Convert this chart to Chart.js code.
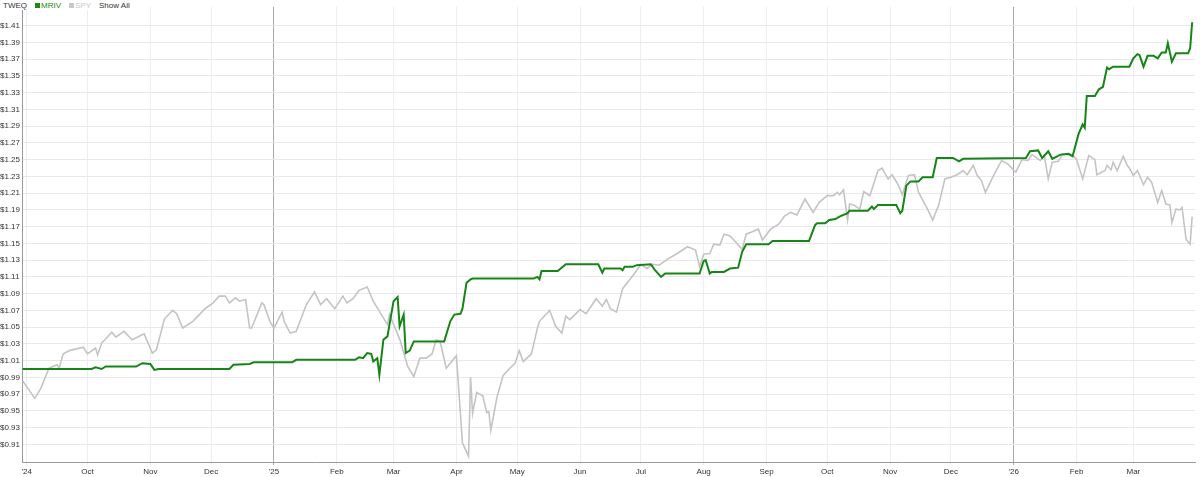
<!DOCTYPE html>
<html><head><meta charset="utf-8">
<script src="https://cdn.jsdelivr.net/npm/chart.js@4/dist/chart.umd.min.js"></script>
<style>
html,body{margin:0;padding:0;background:#fff;}
#wrap{position:relative;width:1200px;height:477px;}
#legend{position:absolute;left:3px;top:1px;font:8px "Liberation Sans",Arial,sans-serif;color:#333;z-index:2;background:#fff;padding-right:3px;}
#legend span{margin-right:8px;}
.sq{display:inline-block;width:5px;height:5px;margin-right:1px;vertical-align:0px;}
</style></head><body>
<div id="wrap">
<div id="legend"><span>TWEQ</span><span style="color:#1a8a1a"><i class="sq" style="background:#1a8a1a"></i>MRIV</span><span style="color:#c8c8c8"><i class="sq" style="background:#c8c8c8"></i>SPY</span><span>Show All</span></div>
<canvas id="c" width="1200" height="477"></canvas>
</div>
<script>
// day 0 = 2024-09-01
const monthDays = [0,30,61,91,122,153,181,212,242,273,303,334,365,395,426,456,487,518,546];
const monthLabels = ["'24","Oct","Nov","Dec","'25","Feb","Mar","Apr","May","Jun","Jul","Aug","Sep","Oct","Nov","Dec","'26","Feb","Mar"];
const yearDays = [122,487];
const yTicks = [0.91,0.93,0.95,0.97,0.99,1.01,1.03,1.05,1.07,1.09,1.11,1.13,1.15,1.17,1.19,1.21,1.23,1.25,1.27,1.29,1.31,1.33,1.35,1.37,1.39,1.41];

const spyDays = [-2,4,7,11,15,16,18,21,28,30,34,35,37,42,44,48,52,58,62,64,68,72,74,77,82,88,92,95,98,100,103,105,108,110,111,116,117,120,122,126,127,130,133,138,142,145,148,152,156,158,161,164,168,171,175,178,179,184,188,191,194,197,200,202,204,207,212,215,218,219,220,222,225,227,228,229,232,235,238,241,243,245,249,252,253,258,261,264,266,268,273,276,281,284,286,288,291,294,298,301,303,306,309,312,316,321,326,330,332,334,337,339,342,344,347,350,353,355,358,361,363,367,371,374,377,380,384,388,391,395,398,400,401,403,405,406,408,411,413,416,420,422,425,427,430,432,435,438,440,444,447,450,453,456,459,462,464,467,469,471,473,477,481,484,488,491,494,496,500,502,504,506,509,511,516,518,521,524,527,528,532,533,535,536,538,541,543,544,546,548,551,553,555,558,560,562,564,565,567,569,570,572,574,575];
const spyVals = [0.986,0.965,0.977,1.001,1.005,1.001,1.018,1.022,1.026,1.018,1.025,1.017,1.031,1.044,1.038,1.045,1.035,1.042,1.019,1.023,1.060,1.070,1.066,1.049,1.057,1.072,1.079,1.087,1.087,1.079,1.085,1.081,1.083,1.049,1.049,1.079,1.077,1.057,1.049,1.068,1.057,1.043,1.045,1.077,1.092,1.077,1.084,1.072,1.087,1.079,1.084,1.094,1.098,1.081,1.065,1.053,1.065,1.036,1.003,0.991,1.013,1.013,1.018,1.035,1.033,1.001,1.016,0.912,0.896,0.990,0.947,0.972,0.968,0.948,0.949,0.927,0.966,0.992,1.000,1.007,1.022,1.009,1.018,1.049,1.057,1.070,1.051,1.043,1.063,1.059,1.071,1.066,1.084,1.075,1.083,1.072,1.068,1.096,1.108,1.118,1.125,1.120,1.125,1.124,1.131,1.138,1.146,1.142,1.122,1.137,1.138,1.149,1.148,1.161,1.159,1.151,1.143,1.161,1.164,1.167,1.154,1.167,1.173,1.183,1.187,1.184,1.203,1.187,1.199,1.207,1.207,1.211,1.208,1.214,1.178,1.197,1.196,1.191,1.212,1.207,1.237,1.240,1.227,1.232,1.220,1.208,1.231,1.232,1.211,1.193,1.178,1.196,1.227,1.229,1.232,1.237,1.232,1.243,1.231,1.225,1.211,1.231,1.249,1.245,1.235,1.250,1.249,1.256,1.249,1.255,1.227,1.247,1.248,1.256,1.256,1.250,1.227,1.255,1.250,1.232,1.237,1.243,1.238,1.247,1.237,1.254,1.243,1.240,1.231,1.237,1.220,1.229,1.223,1.199,1.213,1.197,1.196,1.175,1.191,1.190,1.193,1.155,1.149,1.182];

const mrivDays = [-2,32,34,37,39,54,57,61,63,65,100,102,110,112,131,133,162,164,166,168,170,171,173,174,176,178,179,181,183,184,186,187,189,191,206,209,211,214,215,217,219,220,250,252,253,254,262,266,282,284,285,293,294,295,299,301,308,310,313,315,332,334,335,337,338,344,347,351,353,355,366,368,386,389,390,394,396,399,401,405,406,415,417,418,420,429,431,432,434,436,440,442,447,449,457,460,462,493,495,499,501,504,506,510,514,516,517,519,521,522,523,527,529,531,533,534,536,544,546,548,549,551,553,556,558,560,562,563,565,567,573,574,575];
const mrivVals = [1.000,1.000,1.002,1.000,1.003,1.003,1.007,1.006,0.999,1.000,1.000,1.005,1.006,1.008,1.008,1.011,1.011,1.014,1.013,1.019,1.018,1.009,1.013,0.993,1.035,1.039,1.053,1.081,1.086,1.051,1.065,1.019,1.022,1.033,1.033,1.057,1.065,1.066,1.072,1.103,1.107,1.108,1.108,1.110,1.107,1.117,1.117,1.125,1.125,1.115,1.120,1.120,1.118,1.122,1.122,1.124,1.125,1.118,1.110,1.114,1.114,1.129,1.130,1.114,1.116,1.116,1.120,1.121,1.140,1.149,1.149,1.153,1.153,1.172,1.174,1.174,1.178,1.179,1.182,1.186,1.189,1.189,1.194,1.191,1.196,1.196,1.186,1.189,1.219,1.224,1.224,1.229,1.229,1.252,1.252,1.248,1.251,1.252,1.260,1.261,1.252,1.260,1.251,1.256,1.257,1.254,1.263,1.281,1.292,1.288,1.326,1.326,1.334,1.337,1.360,1.358,1.361,1.361,1.371,1.376,1.375,1.361,1.374,1.374,1.371,1.378,1.378,1.389,1.367,1.377,1.377,1.383,1.414];

const toPts = (d,v) => d.map((x,i)=>({x:x,y:v[i]}));
const font = {family:'"Liberation Sans", Arial, sans-serif', size:8};

new Chart(document.getElementById('c'), {
  type:'line',
  data:{datasets:[
    {label:'MRIV', data:toPts(mrivDays,mrivVals), borderColor:'#168516', borderWidth:2, pointRadius:0, tension:0, fill:false},
    {label:'SPY', data:toPts(spyDays,spyVals), borderColor:'#c4c4c4', borderWidth:1.6, pointRadius:0, tension:0, fill:false}
  ]},
  options:{
    responsive:false, animation:false, events:[],
    layout:{padding:{top:3,right:5,left:0,bottom:0}},
    plugins:{legend:{display:false}, tooltip:{enabled:false}},
    scales:{
      x:{type:'linear', min:-2.3, max:576.4,
        afterBuildTicks:(ax)=>{ax.ticks = monthDays.map(v=>({value:v}));},
        ticks:{autoSkip:false, maxRotation:0, font:font, color:'#333', padding:2,
          callback:(v)=>{const i=monthDays.indexOf(v); return i>=0?monthLabels[i]:'';}},
        grid:{color:(ctx)=> (ctx.tick && yearDays.includes(ctx.tick.value)) ? '#a8a8a8' : '#ededf5', lineWidth:1, drawTicks:true, tickLength:3},
        border:{color:'#999', width:1},
        afterFit:(ax)=>{ax.height=15;}
      },
      y:{type:'linear', min:0.889, max:1.4325,
        afterBuildTicks:(ax)=>{ax.ticks = yTicks.map(v=>({value:v}));},
        ticks:{font:font, color:'#333', padding:2, crossAlign:'far',
          callback:(v)=>'$'+v.toFixed(2)},
        grid:{color:'#e8e8ee', lineWidth:1, drawTicks:false},
        border:{color:'#999', width:1},
        afterFit:(ax)=>{ax.width=22;}
      }
    }
  }
});
</script>
</body></html>
